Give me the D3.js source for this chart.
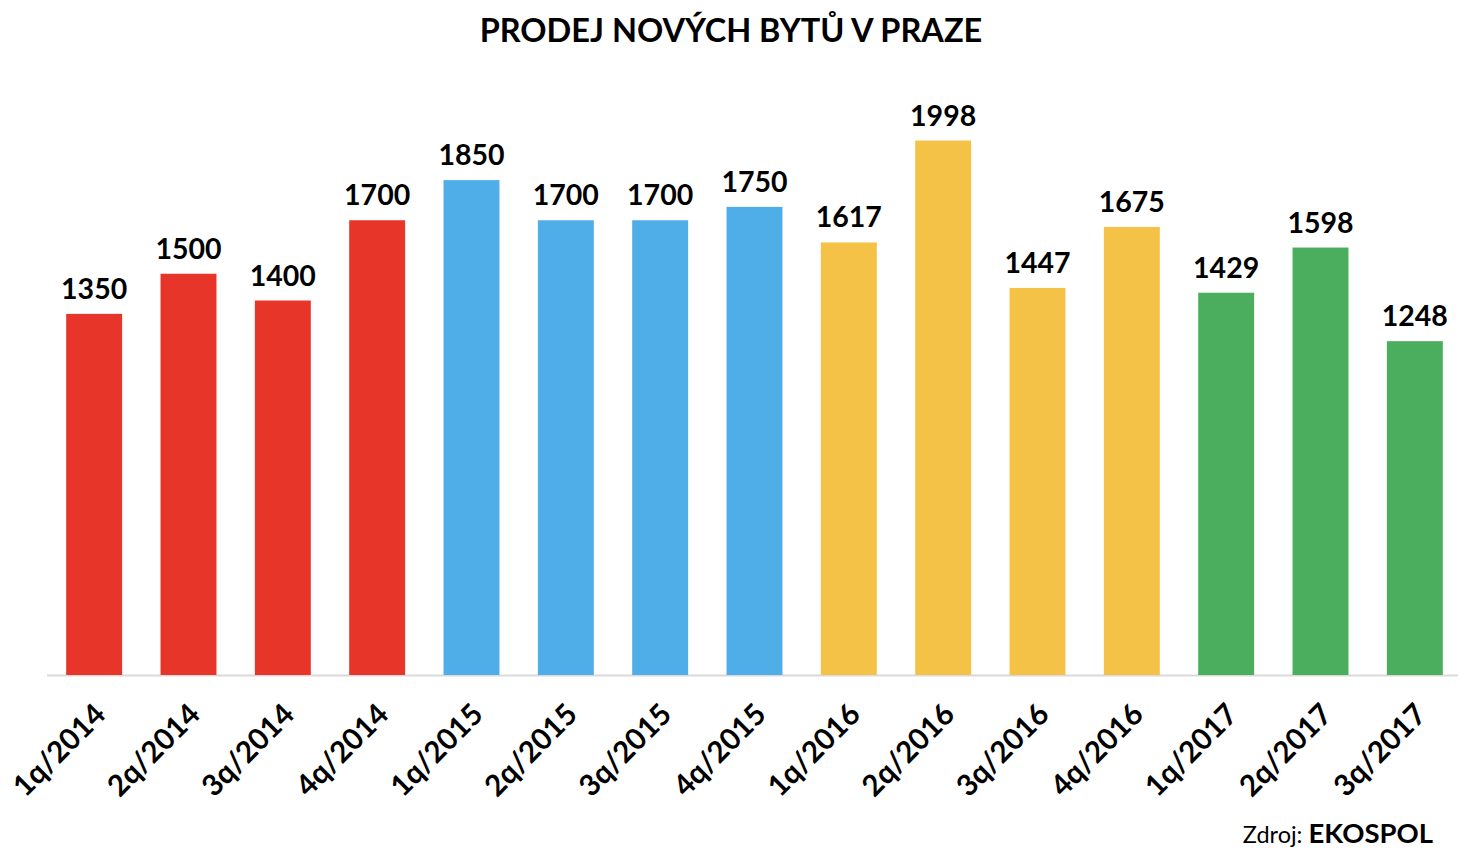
<!DOCTYPE html>
<html><head><meta charset="utf-8">
<script src="https://cdn.jsdelivr.net/npm/d3@7/dist/d3.min.js"></script>
<style>body{margin:0;background:#fff}svg{display:block}</style>
</head><body><svg id="c" width="1458" height="860"></svg>
<script>
const categories = ["1q/2014","2q/2014","3q/2014","4q/2014","1q/2015","2q/2015","3q/2015","4q/2015","1q/2016","2q/2016","3q/2016","4q/2016","1q/2017","2q/2017","3q/2017"];
const values = [1350,1500,1400,1700,1850,1700,1700,1750,1617,1998,1447,1675,1429,1598,1248];
const years = ["2014","2014","2014","2014","2015","2015","2015","2015","2016","2016","2016","2016","2017","2017","2017"];
const yearColors = {"2014":"#E8352A","2015":"#4FAEE8","2016":"#F4C246","2017":"#4BAE5E"};
const title = "PRODEJ NOVÝCH BYTŮ V PRAZE";

const svg = d3.select("#c");
const font = "Lato, 'Open Sans', sans-serif";
const x = d3.scaleBand().domain(categories).range([47, 1462]).paddingInner(0.407).paddingOuter(0.2035);
const y = d3.scaleLinear().domain([0, 2000]).range([675, 140]);

svg.append("text").attr("x", 731).attr("y", 42).attr("text-anchor","middle")
  .attr("font-family", font).attr("font-weight","bold").attr("font-size", 32.5).attr("fill","#000").text(title);

svg.append("line").attr("x1",47).attr("x2",1458).attr("y1",675.5).attr("y2",675.5).attr("stroke","#d9d9d9").attr("stroke-width",2);

svg.selectAll("rect.bar").data(values).join("rect").attr("class","bar")
  .attr("x",(d,i)=>x(categories[i])).attr("width",x.bandwidth())
  .attr("y",d=>y(d)).attr("height",d=>y(0)-y(d))
  .attr("fill",(d,i)=>yearColors[years[i]]);

svg.selectAll("text.val").data(values).join("text").attr("class","val")
  .attr("x",(d,i)=>x(categories[i])+x.bandwidth()/2).attr("y",d=>y(d)-15)
  .attr("text-anchor","middle").attr("font-family",font).attr("font-weight","bold")
  .attr("font-size",28.5).attr("fill","#000").text(d=>d);

svg.selectAll("text.cat").data(categories).join("text").attr("class","cat")
  .attr("transform",(d)=>`translate(${x(d)+x.bandwidth()/2+1},${704}) rotate(-45)`)
  .attr("text-anchor","end").attr("dominant-baseline","hanging").attr("dy","-0.2em")
  .attr("font-family",font).attr("font-weight","bold").attr("font-size",29.5).attr("fill","#000").text(d=>d);

const src = svg.append("text").attr("x",1433).attr("y",843).attr("text-anchor","end").attr("font-family",font).attr("fill","#000");
src.append("tspan").attr("font-size",23.5).text("Zdroj: ");
src.append("tspan").attr("font-size",27.5).attr("font-weight","bold").text("EKOSPOL");
</script></body></html>
